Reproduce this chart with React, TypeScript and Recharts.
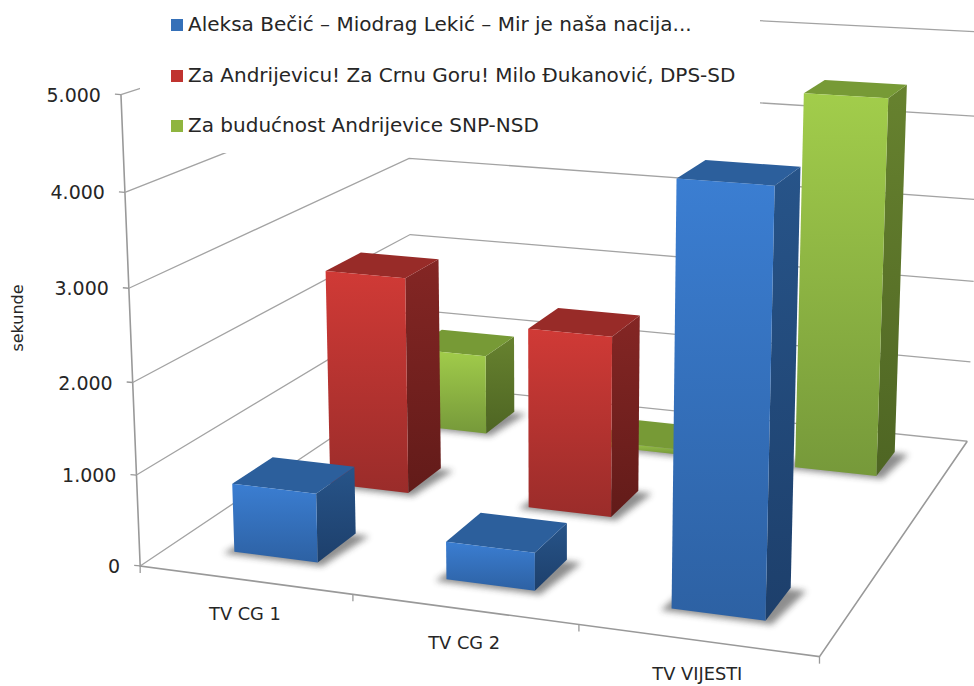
import { BarChart, Bar, XAxis, YAxis, CartesianGrid, Legend } from 'recharts';

const categories = ['TV CG 1', 'TV CG 2', 'TV VIJESTI'];
const blueValues = [760, 410, 4400];
const redValues = [2520, 2070, 0];
const greenValues = [980, 60, 4450];
const valueTicks = [0, 1000, 2000, 3000, 4000, 5000];

const blueName = 'Aleksa Bečić – Miodrag Lekić – Mir je naša nacija...';
const redName = 'Za Andrijevicu! Za Crnu Goru! Milo Đukanović, DPS-SD';
const greenName = 'Za budućnost Andrijevice SNP-NSD';

const data = categories.map((category, i) => ({
  category,
  blue: blueValues[i],
  red: redValues[i],
  green: greenValues[i],
}));

const WIDTH = 974;
const HEIGHT = 686;
const AXIS_SIZE = 1; // an axis with no size is not drawn at all
const PLOT_W = WIDTH - AXIS_SIZE;
const PLOT_H = HEIGHT - AXIS_SIZE;
const MAX_VALUE = 5000;
const BAND = PLOT_W / 3;
const BAR_WIDTH = BAND * 0.4;
const ROW_DEPTH = 0.4;
const FONT = '"DejaVu Sans", sans-serif';
const AXIS_COLOR = '#a3a3a3';

// camera: where corners of the 3D box (across, depth, height 0..1) land on the page
// the front left top corner is listed three times so the fit holds it tighter
const CAMERA: number[][] = [
  [0, 0, 0, 141.7, 565.7], [0, 0, 0.2, 137, 475], [0, 0, 0.4, 133, 381],
  [0, 0, 0.6, 129, 288], [0, 0, 0.8, 125, 192], [0, 0, 1, 120, 95],
  [0, 0, 1, 120, 95], [0, 0, 1, 120, 95],
  [1 / 3, 0, 0, 353, 595], [2 / 3, 0, 0, 579, 625], [1, 0, 0, 819.5, 656.7],
  [0, 1, 0, 410, 385], [0, 1, 0.2, 410, 309], [0, 1, 0.4, 410.7, 234.7],
  [0, 1, 0.6, 410, 158], [0, 1, 1, 409, 2.5],
  [1, 1, 0, 967.5, 440.7], [1, 1, 0.2, 970.7, 361.7], [1, 1, 0.4, 974, 281.7],
  [1, 1, 0.6, 977, 199.5], [1, 1, 0.8, 980, 117], [1, 1, 1, 983, 32],
];

function solveCamera() {
  const rows: number[][] = [];
  CAMERA.forEach(([u, v, h, x, y]) => {
    rows.push([u, v, h, 1, 0, 0, 0, 0, -x * u, -x * v, -x * h, x]);
    rows.push([0, 0, 0, 0, u, v, h, 1, -y * u, -y * v, -y * h, y]);
  });
  const n = 11;
  const m: number[][] = [];
  for (let i = 0; i < n; i++) {
    m[i] = [];
    for (let j = 0; j <= n; j++) {
      m[i][j] = rows.reduce((s, r) => s + r[i] * r[j], 0);
    }
  }
  for (let i = 0; i < n; i++) {
    let p = i;
    for (let k = i + 1; k < n; k++) if (Math.abs(m[k][i]) > Math.abs(m[p][i])) p = k;
    [m[i], m[p]] = [m[p], m[i]];
    for (let k = 0; k < n; k++) {
      if (k === i) continue;
      const f = m[k][i] / m[i][i];
      for (let j = i; j <= n; j++) m[k][j] -= f * m[i][j];
    }
  }
  return m.map((r, i) => r[n] / r[i]);
}

const cam = solveCamera();

function project(u: number, v: number, h: number): [number, number] {
  const w = cam[8] * u + cam[9] * v + cam[10] * h + 1;
  return [
    (cam[0] * u + cam[1] * v + cam[2] * h + cam[3]) / w,
    (cam[4] * u + cam[5] * v + cam[6] * h + cam[7]) / w,
  ];
}

const toU = (x: number) => (x - AXIS_SIZE) / PLOT_W;
const toH = (y: number) => (PLOT_H - y) / PLOT_H;
const pts = (list: [number, number][]) => list.map((p) => p.join(',')).join(' ');

function gridLine(props: any) {
  const h = toH(props.y1);
  const line = pts([project(0, 0, h), project(0, 1, h), project(1, 1, h)]);
  if (h > 0.001) {
    return <polyline key={props.key} points={line} fill="none" stroke={AXIS_COLOR} strokeWidth={1.3} />;
  }
  return (
    <g key={props.key}>
      <polyline points={line} fill="none" stroke={AXIS_COLOR} strokeWidth={1.3} />
      <polyline
        points={pts([project(1, 1, 0), project(1, 0, 0), project(0, 0, 0), project(0, 0, 1)])}
        fill="none"
        stroke="#999999"
        strokeWidth={1.6}
      />
    </g>
  );
}

function ValueTick(props: any) {
  const [x, y] = project(0, 0, toH(props.y));
  return (
    <g>
      <line x1={x - 6} y1={y - 0.5} x2={x} y2={y} stroke="#999999" strokeWidth={1.3} />
      <text x={x - 20} y={y + 7} textAnchor="end" fontFamily={FONT} fontSize={19} fill="#262626">
        {props.payload.value.toLocaleString('de-DE')}
      </text>
    </g>
  );
}

function CategoryTick(props: any) {
  const u = toU(props.x);
  const [lx, ly] = project(u, 0, 0);
  const [tx, ty] = project(toU(props.x + BAND / 2), 0, 0);
  const [sx, sy] = project(toU(props.x - BAND / 2), 0, 0);
  return (
    <g>
      <line x1={tx} y1={ty} x2={tx} y2={ty + 7} stroke="#999999" strokeWidth={1.3} />
      {props.index === 0 && <line x1={sx} y1={sy} x2={sx} y2={sy + 7} stroke="#999999" strokeWidth={1.3} />}
      <text x={lx} y={ly + 40} textAnchor="middle" fontFamily={FONT} fontSize={17.8} fill="#262626">
        {props.payload.value}
      </text>
    </g>
  );
}

function Column3D(props: any) {
  const { x, y, width, height, row, tone } = props;
  if (!height || height <= 0) return null;
  const u0 = toU(x);
  const u1 = toU(x + width);
  const v0 = (row + (1 - ROW_DEPTH) / 2) / 3;
  const v1 = v0 + ROW_DEPTH / 3;
  const h = toH(y);
  const front = [project(u0, v0, 0), project(u1, v0, 0), project(u1, v0, h), project(u0, v0, h)];
  const side = [project(u1, v0, 0), project(u1, v1, 0), project(u1, v1, h), project(u1, v0, h)];
  const top = [project(u0, v0, h), project(u1, v0, h), project(u1, v1, h), project(u0, v1, h)];
  const shadow = [
    project(u0 - 0.012, v0 - 0.012, 0),
    project(u1 + 0.012, v0 - 0.012, 0),
    project(u1 + 0.024, v1 - 0.005, 0),
    project(u0, v1 - 0.005, 0),
  ];
  return (
    <g>
      <polygon points={pts(shadow)} fill="#333333" opacity={0.55} filter="url(#soft)" />
      <polygon points={pts(side)} fill={`url(#${tone}Side)`} />
      <polygon points={pts(top)} fill={tones[tone].top} />
      <polygon points={pts(front)} fill={`url(#${tone}Front)`} />
    </g>
  );
}

const tones: Record<string, any> = {
  blue: { a: '#3b7ed2', b: '#2d61a3', c: '#275489', d: '#1d3f6b', top: '#2c5f9c' },
  red: { a: '#d03a36', b: '#9a2c2a', c: '#842624', d: '#621b19', top: '#982b28' },
  green: { a: '#a2cd4b', b: '#76993a', c: '#67822f', d: '#4e6523', top: '#779a36' },
};

function Gradients() {
  return (
    <defs>
      <filter id="soft" x="-30%" y="-30%" width="160%" height="160%">
        <feGaussianBlur stdDeviation="3" />
      </filter>
      {Object.keys(tones).map((name) => (
        <g key={name}>
          <linearGradient id={`${name}Front`} x1="0" y1="0" x2="0" y2="1">
            <stop offset="0" stopColor={tones[name].a} />
            <stop offset="1" stopColor={tones[name].b} />
          </linearGradient>
          <linearGradient id={`${name}Side`} x1="0" y1="0" x2="0" y2="1">
            <stop offset="0" stopColor={tones[name].c} />
            <stop offset="1" stopColor={tones[name].d} />
          </linearGradient>
        </g>
      ))}
    </defs>
  );
}

function LegendBox({ payload }: any) {
  return (
    <div style={{ position: 'absolute', left: 140, top: 0, width: 620, height: 153, background: '#fff' }}>
      {(payload || []).map((item: any, i: number) => (
        <div
          key={item.value}
          style={{
            position: 'absolute',
            left: 31,
            top: 9 + i * 50.7,
            height: 30,
            lineHeight: '30px',
            whiteSpace: 'nowrap',
            fontFamily: FONT,
            fontSize: 20,
            color: '#262626',
          }}
        >
          <span
            style={{
              display: 'inline-block',
              width: 12,
              height: 12,
              background: item.color,
              marginRight: 5,
            }}
          />
          {item.value}
        </div>
      ))}
    </div>
  );
}

export default function App() {
  return (
    <div style={{ position: 'absolute', left: 0, top: 0, width: WIDTH, height: HEIGHT, background: '#fff' }}>
      <BarChart
        width={WIDTH}
        height={HEIGHT}
        data={data}
        margin={{ top: 0, right: 0, bottom: 0, left: 0 }}
        barSize={BAR_WIDTH}
        barGap={-BAR_WIDTH}
      >
        <Gradients />
        <CartesianGrid horizontal={gridLine} vertical={false} />
        <XAxis
          dataKey="category"
          height={AXIS_SIZE}
          axisLine={false}
          tickLine={false}
          interval={0}
          tick={CategoryTick}
        />
        <YAxis
          width={AXIS_SIZE}
          domain={[0, MAX_VALUE]}
          ticks={valueTicks}
          interval={0}
          axisLine={false}
          tickLine={false}
          tick={ValueTick}
        />
        <Bar
          dataKey="green"
          name={greenName}
          fill="#8fb53f"
          isAnimationActive={false}
          shape={(p: any) => <Column3D {...p} row={2} tone="green" />}
        />
        <Bar
          dataKey="red"
          name={redName}
          fill="#c0332f"
          isAnimationActive={false}
          shape={(p: any) => <Column3D {...p} row={1} tone="red" />}
        />
        <Bar
          dataKey="blue"
          name={blueName}
          fill="#3570b8"
          isAnimationActive={false}
          shape={(p: any) => <Column3D {...p} row={0} tone="blue" />}
        />
        <Legend
          wrapperStyle={{ left: 0, top: 0, width: 0, height: 0 }}
          content={(p: any) => <LegendBox {...p} />}
        />
        <text
          transform="translate(23,318) rotate(-90)"
          textAnchor="middle"
          fontFamily={FONT}
          fontSize={16}
          fill="#262626"
        >
          sekunde
        </text>
      </BarChart>
    </div>
  );
}
